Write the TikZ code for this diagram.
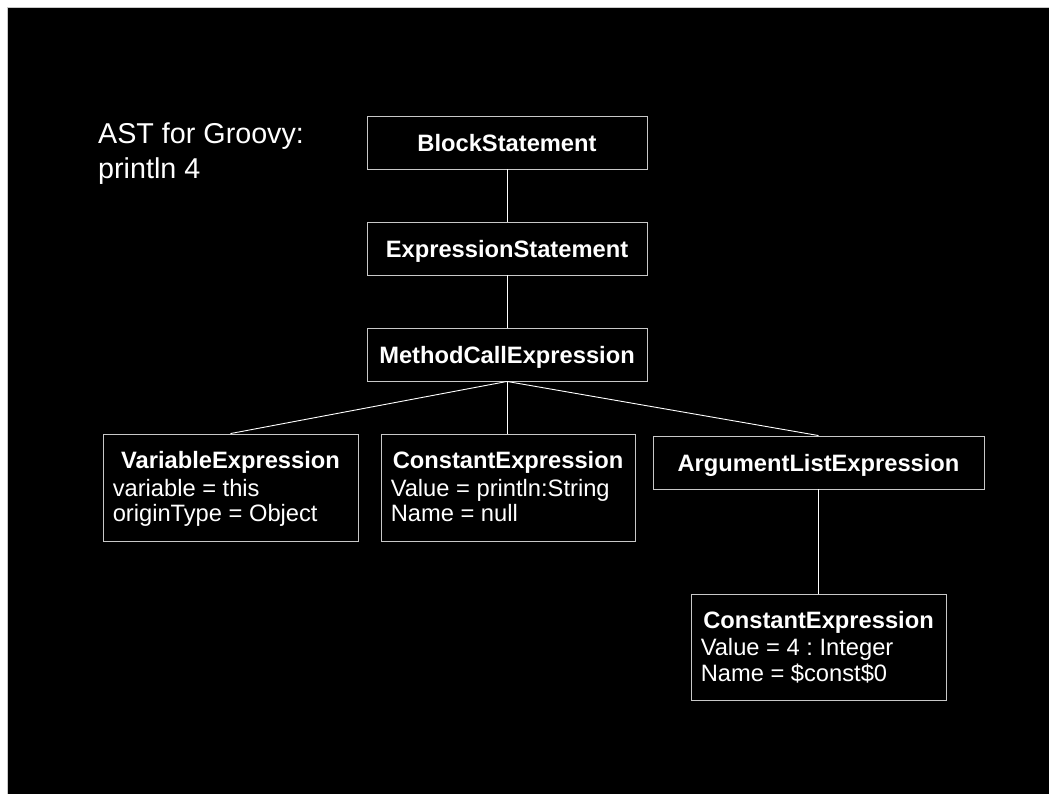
\documentclass[tikz,border=0pt]{standalone}
\usepackage{fontspec}
\setmainfont{Liberation Sans}
\usetikzlibrary{calc}
\frenchspacing
\definecolor{boxline}{RGB}{200,200,200}
\tikzset{
  box/.style={draw=boxline, line width=0.9pt, fill=black, rectangle, inner sep=0pt},
  titletext/.style={text=white, inner sep=0pt, font=\fontsize{23.7}{26.5}\selectfont\bfseries},
  bodytext/.style={text=white, inner sep=0pt, font=\fontsize{23.7}{26.5}\selectfont\frenchspacing},
  headtext/.style={text=white, inner sep=0pt, font=\fontsize{28.7}{35}\selectfont},
  conn/.style={draw=white, line width=0.9pt},
}
\begin{document}
\begin{tikzpicture}[x=1pt,y=-1pt]
\useasboundingbox (0,0) rectangle (1049,793);
\fill[white] (0,0) rectangle (1049,793);
\filldraw[fill=black, draw=boxline, line width=1pt] (7,7) rectangle (1052,796);

\node[headtext, anchor=base west] (h1) at (98,143) {AST for Groovy:};
\node[headtext, anchor=base west] (h2) at (98,178) {println 4};

% single-line boxes
\node[box, minimum width=280pt, minimum height=53pt] (block) at (507,142.5) {};
\node[box, minimum width=280pt, minimum height=53pt] (expr) at (507,248.5) {};
\node[box, minimum width=280pt, minimum height=53pt] (method) at (507,354.5) {};
\node[box, minimum width=331pt, minimum height=53pt] (arglist) at (818.5,462.5) {};

% multi-line boxes
\node[box, minimum width=255pt, minimum height=107pt] (var) at (230.5,487.5) {};
\node[box, minimum width=254pt, minimum height=107pt] (const1) at (508,487.5) {};
\node[box, minimum width=255pt, minimum height=106pt] (const2) at (818.5,647) {};

% connectors
\draw[conn] (block.south) -- (expr.north);
\draw[conn] (expr.south) -- (method.north);
\draw[conn] (method.south) -- (var.north);
\draw[conn] (method.south) -- (const1.north -| method.south);
\draw[conn] (method.south) -- (arglist.north);
\draw[conn] (arglist.south) -- (const2.north);

% single-line texts
\node[titletext, anchor=base] (blockT) at ($(block.center)+(0,8.5)$) {BlockStatement};
\node[titletext, anchor=base] (exprT) at ($(expr.center)+(0,8.5)$) {ExpressionStatement};
\node[titletext, anchor=base] (methodT) at ($(method.center)+(0,8.5)$) {MethodCallExpression};
\node[titletext, anchor=base] (arglistT) at ($(arglist.center)+(0,8.5)$) {ArgumentListExpression};

% VariableExpression
\node[titletext, anchor=base] (varT) at ($(var.north)+(0,35)$) {VariableExpression};
\node[bodytext, anchor=base west] (varA) at ($(var.north west)+(10,63)$) {variable = this};
\node[bodytext, anchor=base west] (varB) at ($(var.north west)+(10,88)$) {originType = Object};

% ConstantExpression 1
\node[titletext, anchor=base] (c1T) at ($(const1.north)+(0,35)$) {ConstantExpression};
\node[bodytext, anchor=base west] (c1A) at ($(const1.north west)+(10,63)$) {Value = println:String};
\node[bodytext, anchor=base west] (c1B) at ($(const1.north west)+(10,88)$) {Name = null};

% ConstantExpression 2
\node[titletext, anchor=base] (c2T) at ($(const2.north)+(0,34.5)$) {ConstantExpression};
\node[bodytext, anchor=base west] (c2A) at ($(const2.north west)+(10,62)$) {Value = 4 : Integer};
\node[bodytext, anchor=base west] (c2B) at ($(const2.north west)+(10,87.5)$) {Name = \$const\$0};
\end{tikzpicture}
\end{document}
